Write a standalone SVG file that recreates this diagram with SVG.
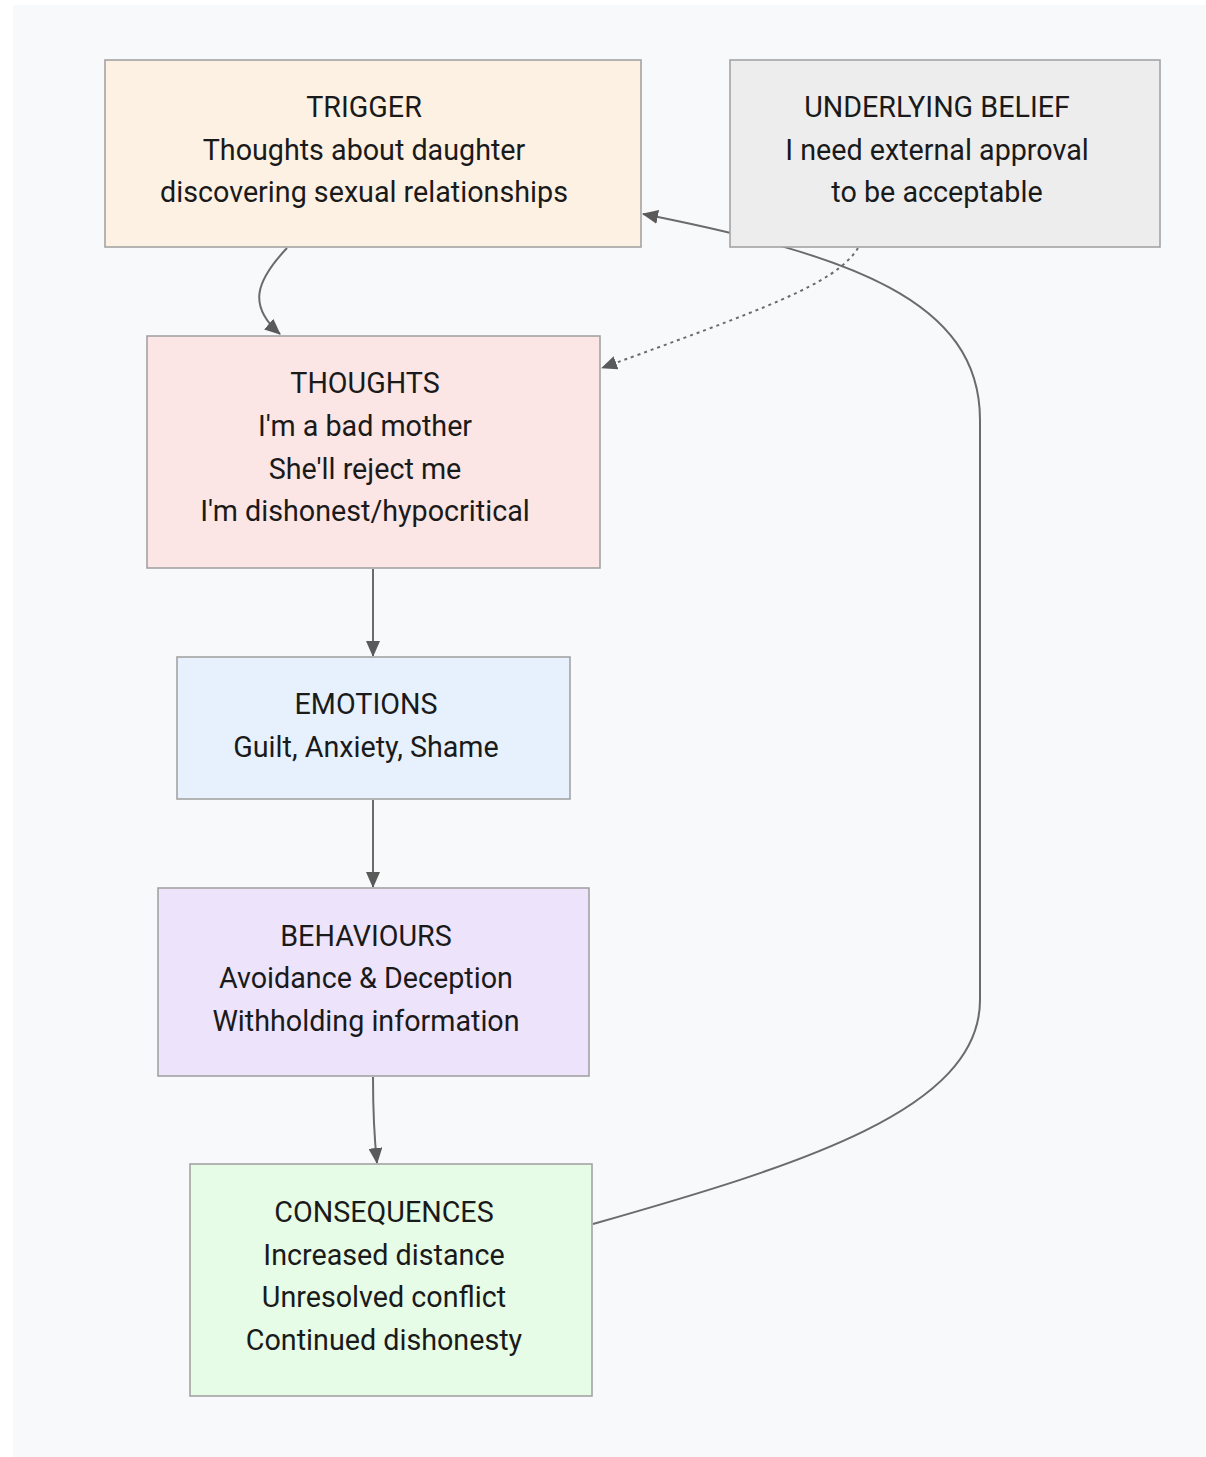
<svg xmlns="http://www.w3.org/2000/svg" width="1206" height="1457" viewBox="0 0 1206 1457">
  <style>
    .box { stroke: #a3a3a3; stroke-width: 1.6; }
    .lbl { font-family: Roboto, "Liberation Sans", Arial, sans-serif; font-size: 28.7px; fill: #1a1a1a; text-anchor: middle; }
    .edge { fill: none; stroke: #6b6b6b; stroke-width: 2; }
    .dotted { stroke-dasharray: 3 4; }
  </style>
  <defs>
    <marker id="arrow" viewBox="0 0 16 14" refX="15" refY="7" markerWidth="16" markerHeight="14" markerUnits="userSpaceOnUse" orient="auto">
      <path d="M0,0 L16,7 L0,14 z" fill="#5a5a5a"/>
    </marker>
  </defs>

  <rect x="0" y="0" width="1206" height="1457" fill="#ffffff"/>
  <rect x="13" y="5" width="1193" height="1452" fill="#f8f9fb"/>

  <g id="connectors">
    <!-- trigger to thoughts -->
    <path class="edge" d="M287,248 C255,282 248,306 280,334" marker-end="url(#arrow)"/>
    <!-- thoughts to emotions -->
    <path class="edge" d="M373,569 L373,656" marker-end="url(#arrow)"/>
    <!-- emotions to behaviours -->
    <path class="edge" d="M373,800 L373,887" marker-end="url(#arrow)"/>
    <!-- behaviours to consequences -->
    <path class="edge" d="M373,1077 C373,1110 374,1135 377,1163" marker-end="url(#arrow)"/>
    <!-- belief to thoughts (dotted) -->
    <path class="edge dotted" d="M858,248 C835,285 760,310 602,368" marker-end="url(#arrow)"/>
    <!-- consequences loop back to trigger -->
    <path class="edge" d="M593,1224 C800,1165 980,1110 980,1000 L980,420 C980,300 850,255 643,214" marker-end="url(#arrow)"/>
  </g>

  <g id="trigger">
    <rect class="box" x="105" y="60" width="536" height="187" fill="#fdf1e4"/>
    <text class="lbl" x="364" y="117">TRIGGER</text>
    <text class="lbl" x="364" y="160">Thoughts about daughter</text>
    <text class="lbl" x="364" y="202">discovering sexual relationships</text>
  </g>

  <g id="belief">
    <rect class="box" x="730" y="60" width="430" height="187" fill="#ededed"/>
    <text class="lbl" x="937" y="117">UNDERLYING BELIEF</text>
    <text class="lbl" x="937" y="160">I need external approval</text>
    <text class="lbl" x="937" y="202">to be acceptable</text>
  </g>

  <g id="thoughts">
    <rect class="box" x="147" y="336" width="453" height="232" fill="#fbe5e5"/>
    <text class="lbl" x="365" y="393">THOUGHTS</text>
    <text class="lbl" x="365" y="436">I'm a bad mother</text>
    <text class="lbl" x="365" y="479">She'll reject me</text>
    <text class="lbl" x="365" y="521">I'm dishonest/hypocritical</text>
  </g>

  <g id="emotions">
    <rect class="box" x="177" y="657" width="393" height="142" fill="#e6f1fd"/>
    <text class="lbl" x="366" y="714">EMOTIONS</text>
    <text class="lbl" x="366" y="757">Guilt, Anxiety, Shame</text>
  </g>

  <g id="behaviours">
    <rect class="box" x="158" y="888" width="431" height="188" fill="#ede4fc"/>
    <text class="lbl" x="366" y="946">BEHAVIOURS</text>
    <text class="lbl" x="366" y="988">Avoidance &amp; Deception</text>
    <text class="lbl" x="366" y="1031">Withholding information</text>
  </g>

  <g id="consequences">
    <rect class="box" x="190" y="1164" width="402" height="232" fill="#e7fce6"/>
    <text class="lbl" x="384" y="1222">CONSEQUENCES</text>
    <text class="lbl" x="384" y="1265">Increased distance</text>
    <text class="lbl" x="384" y="1307">Unresolved conflict</text>
    <text class="lbl" x="384" y="1350">Continued dishonesty</text>
  </g>
</svg>
